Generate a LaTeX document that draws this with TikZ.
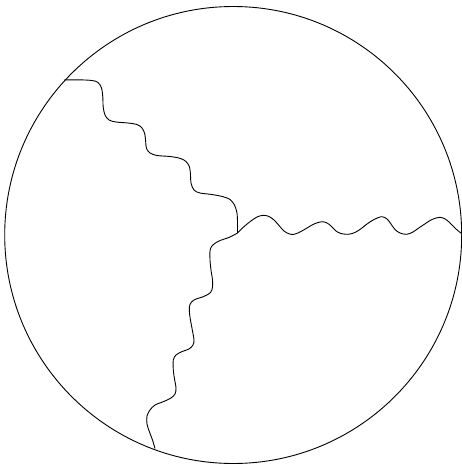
\documentclass[tikz,border=0pt]{standalone}
\begin{document}
\begin{tikzpicture}[x=1pt,y=-1pt,
  rim/.style={line width=0.9pt,black},
  gluon/.style={line width=0.9pt,black,line join=round}]
\useasboundingbox (0,0) rectangle (461,466);
\coordinate (o) at (233.2,235);
\coordinate (c) at (237.5,233);
\coordinate (ul) at (64,80);
\coordinate (r) at (461.5,233.5);
\coordinate (b) at (155,448.5);
\draw[rim] (o) circle[radius=228.5];
% upper-left line
\draw[gluon] plot[smooth,tension=0.55] coordinates {
 (ul) (78,79.8) (92,80.5) (98,82.5) (101.5,88) (102.8,97) (103.2,107)
 (105,115) (109,120) (116,122) (128,123) (137,124.5) (142,128)
 (144.8,134) (145.7,142) (146.5,148.5) (150,153) (157,155.5) (170,156.5)
 (180,158.3) (186,161.5) (189.5,167) (190.5,175) (191,183) (194,190)
 (200,193) (212,194.5) (223,196.7) (230,199.5) (234.5,205) (237,213)
 (237.5,222) (c)};
% right line
\draw[gluon] plot[smooth,tension=0.55] coordinates {
 (c) (243,227.5) (250,221.7) (257,217) (263.3,215.3) (269,216.5)
 (274,220) (279,225.5) (284,231) (289,233.8) (294,234.3) (300,232)
 (307,228) (314,224) (321.7,221.7) (327,223) (331,226) (336,231)
 (341,233.5) (348,234.3) (355,232.5) (362,228) (367,224) (374,219.5)
 (381.7,216.7) (387,219) (391,224) (395,229.5) (400,233) (406.7,234.3)
 (413,232) (418,228.5) (424,224.5) (432,219.5) (440,217.3) (446,219.5)
 (451,224) (456,229) (r)};
% bottom line
\draw[gluon] plot[smooth,tension=0.55] coordinates {
 (c) (232,236) (226.7,238.3) (220,240.5) (215,243.3) (211.5,246.5)
 (210,251) (210,260) (211,270) (212.5,280) (212.5,287) (210.5,292.5)
 (203.3,296.7) (196,299) (191.5,302) (189.3,307) (189.7,315) (191,323)
 (192.7,332) (194,340) (193,345) (189,349) (181.7,351.7) (176,355)
 (173.3,360) (173.3,370) (174.5,379) (176,388) (175,394) (171,398)
 (163.3,401.7) (155,405) (150,410) (147,416) (147,424) (149.5,432)
 (152.5,440) (b)};
\end{tikzpicture}
\end{document}
